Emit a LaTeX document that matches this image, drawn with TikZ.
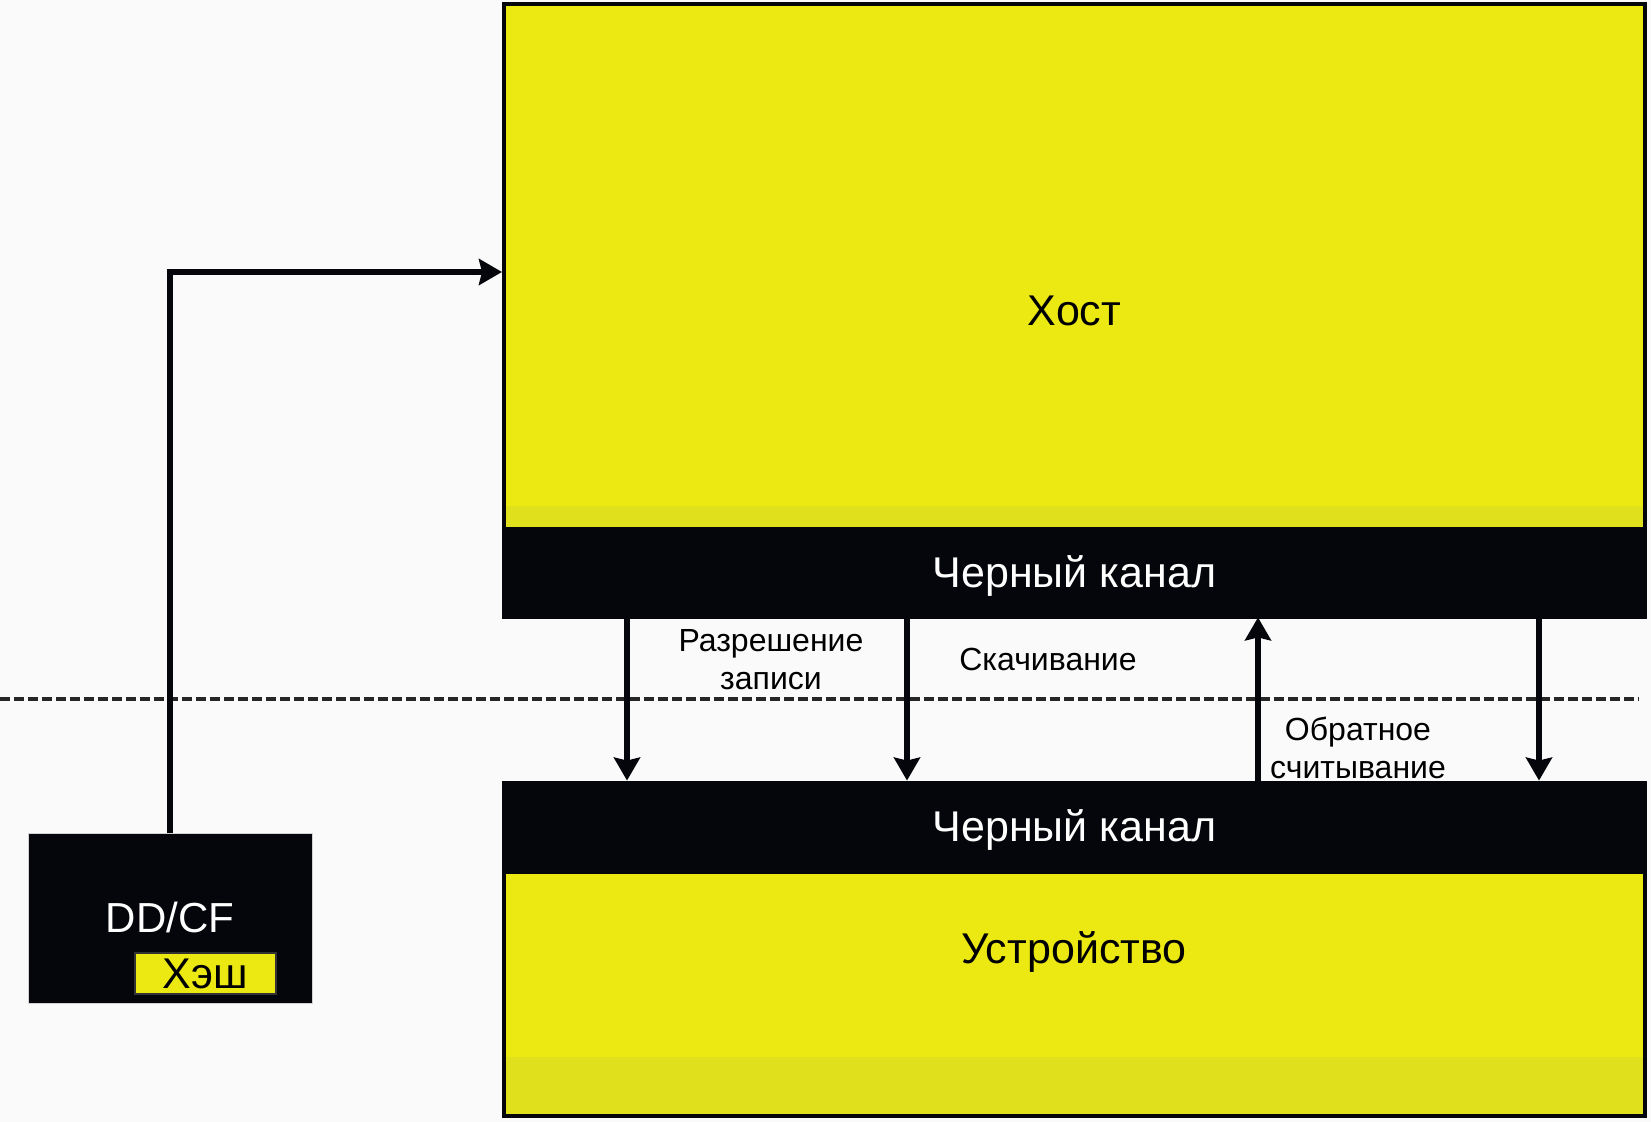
\documentclass[tikz,border=0pt]{standalone}
\usepackage{fontspec}
\setmainfont{Liberation Sans}
\usepackage{tikz}
\usetikzlibrary{arrows.meta,positioning,calc}

\definecolor{hostyellow}{RGB}{236,233,18}
\definecolor{bandyellow}{RGB}{225,224,28}
\definecolor{chblack}{RGB}{5,6,11}
\definecolor{bgwhite}{RGB}{250,250,250}
\definecolor{dashgray}{RGB}{38,38,38}

\tikzset{
  unitbox/.style={rectangle, inner sep=0pt, fill=hostyellow, draw=chblack, line width=2pt,
    font=\fontsize{21.5}{25}\selectfont, text height=15.4pt, text depth=0pt},
  chanbox/.style={rectangle, inner sep=0pt, fill=chblack, text=white,
    minimum width=572.5pt, font=\fontsize{21.5}{25}\selectfont, text height=15.4pt, text depth=0pt},
  flowlabel/.style={align=center, inner sep=0pt, font=\fontsize{16}{19}\selectfont},
  flow/.style={line width=2.8pt, draw=chblack, -{Stealth[length=11.5pt,width=13pt,inset=1.5pt]}},
  divider/.style={line width=2pt, draw=dashgray, dash pattern=on 5pt off 2pt}
}

\begin{document}
\begin{tikzpicture}[x=0.5pt, y=-0.5pt]
\useasboundingbox[fill=bgwhite] (0,0) rectangle (1651,1122);
% Host
\node[unitbox, minimum width=570.5pt, minimum height=306.5pt] (host) at (1074.5,310.5) {Хост};
\fill[bandyellow] (506,506) rectangle (1643,527);
\node[chanbox, minimum height=45pt] (hostch) at (1074.5,572) {Черный канал};
% Device
\node[unitbox, minimum width=570.5pt, minimum height=122pt] (dev) at (1074.5,994) {};
\fill[bandyellow] (506,1057) rectangle (1643,1114);
\node[chanbox, minimum height=45.5pt] (devch) at (1074.5,826.5) {Черный канал};
\node[font=\fontsize{21.5}{25}\selectfont, inner sep=0pt, text height=15.4pt, text depth=0pt] (devtext) at (1074,948) {Устройство};
% DD/CF with hash
\node[rectangle, inner sep=0pt, fill=chblack, draw=gray!35, line width=0.5pt,
  minimum width=142pt, minimum height=85pt] (ddcf) at (170,919) {};
\node[font=\fontsize{21}{25}\selectfont, text=white, inner sep=0pt, text height=15pt, text depth=0pt] (ddcftext) at (170,917.5) {DD/CF};
\node[rectangle, inner sep=0pt, fill=hostyellow, draw=black!80, line width=1pt,
  minimum width=70.5pt, minimum height=20.5pt, font=\fontsize{21.5}{25}\selectfont,
  text height=15pt, text depth=0pt] (hash) at (205.5,973.5) {Хэш};
% Boundary
\coordinate (divl) at (0,699);
\coordinate (divr) at (1639,699);
\draw[divider] (divl) -- (divr);
% Feed into host
\coordinate (feed) at (0,272);
\draw[flow, line width=2.9pt] (ddcf.north) |- (host.west |- feed);
% Channel transfers
\foreach \x in {627,907,1539} {
  \coordinate (d\x) at (\x,0);
  \draw[flow] (hostch.south -| d\x) -- (devch.north -| d\x);
}
\coordinate (u1) at (1258,0);
\draw[flow] (devch.north -| u1) -- (hostch.south -| u1);
% Labels
\node[flowlabel] (wlabel) at (771,660) {Разрешение\\записи};
\node[flowlabel] (dlabel) at (1048,659) {Скачивание};
\node[flowlabel] (rlabel) at (1358,748) {Обратное\\считывание};
\end{tikzpicture}
\end{document}
